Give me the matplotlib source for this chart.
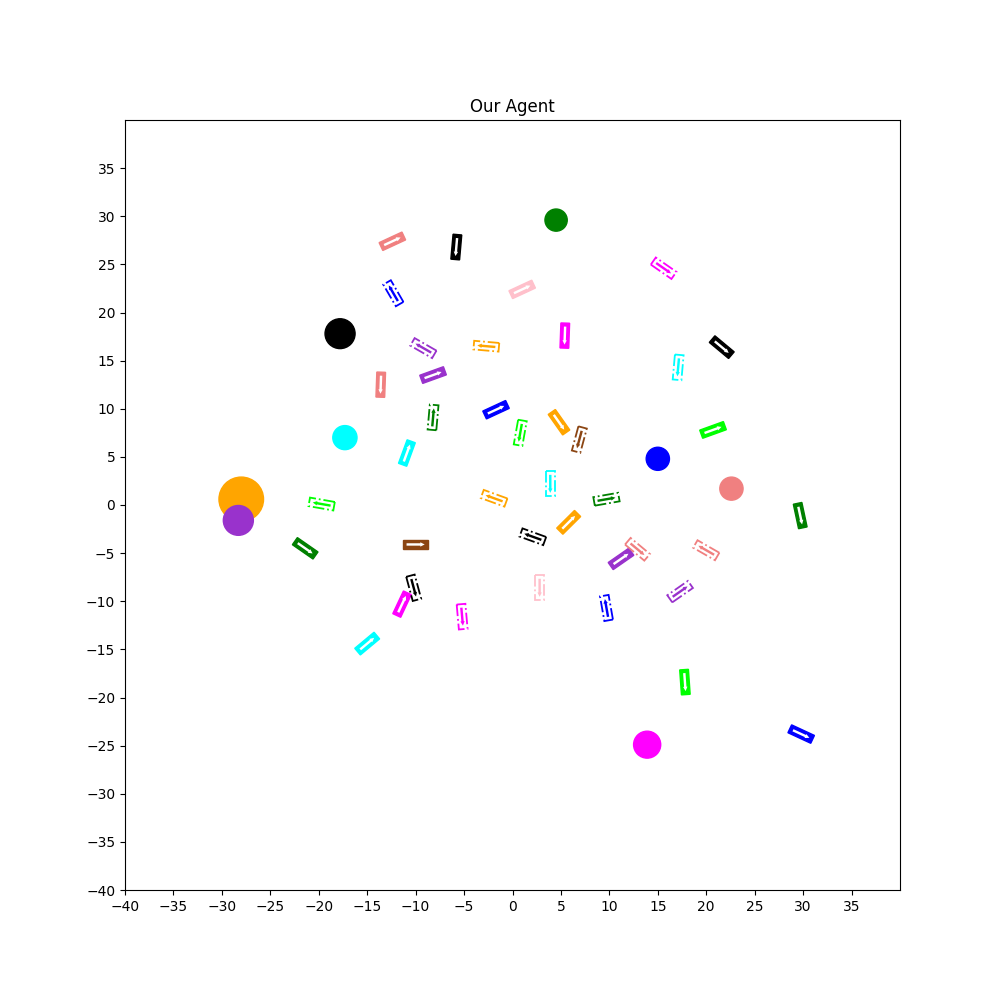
import numpy as np
import matplotlib
matplotlib.use("Agg")
import matplotlib.pyplot as plt
from matplotlib.patches import Rectangle, Circle

# Landmarks
lm_x = [4.5, -17.8, -17.3, -28.0, -28.3, 15.0, 22.6, 13.9]
lm_y = [29.6, 17.8, 7.0, 0.6, -1.6, 4.8, 1.7, -24.9]
lm_r = [1.15, 1.55, 1.25, 2.3, 1.55, 1.2, 1.2, 1.4]
lm_c = ['green', 'black', 'cyan', 'orange', 'darkorchid', 'blue', 'lightcoral', 'magenta']

# Our agents (solid)
our_x = [-12.4, -5.8, 1.0, 5.4, 21.6, -13.6, -8.2, -1.7, 4.8, -10.9,
         20.7, 29.7, 5.8, -21.4, -10.0, 11.2, -11.4, -15.0, 17.8, 29.8]
our_y = [27.4, 26.8, 22.4, 17.6, 16.4, 12.5, 13.5, 9.9, 8.6, 5.4,
         7.8, -1.1, -1.8, -4.5, -4.1, -5.6, -10.3, -14.4, -18.4, -23.8]
our_h = [25, -95, 25, -92, -40, -92, 20, 25, -55, 70,
         20, -78, 45, -35, 0, 35, 65, 40, -86, -25]
our_c = ['lightcoral', 'black', 'pink', 'magenta', 'black', 'lightcoral', 'darkorchid',
         'blue', 'orange', 'cyan', 'lime', 'green', 'orange', 'green', 'saddlebrown',
         'darkorchid', 'magenta', 'cyan', 'lime', 'blue']

# Other agents (dash-dot)
oth_x = [-12.3, 15.6, -9.2, -2.7, 17.1, -8.2, 0.8, 6.9, 3.9, -1.9,
         -19.7, 9.7, 2.1, 12.9, 20.0, 2.8, -10.2, 17.3, -5.2, 9.7]
oth_y = [22.0, 24.6, 16.3, 16.5, 14.3, 9.1, 7.5, 6.8, 2.2, 0.7,
         0.1, 0.6, -3.3, -4.6, -4.7, -8.6, -8.6, -9.0, -11.6, -10.7]
oth_h = [120, -35, 150, 175, -95, 85, -100, -105, -90, 160,
         170, 10, 160, -40, 150, -90, -75, 35, -85, 100]
oth_c = ['blue', 'magenta', 'darkorchid', 'orange', 'cyan', 'green', 'lime', 'saddlebrown',
         'cyan', 'orange', 'lime', 'green', 'black', 'lightcoral', 'lightcoral', 'pink',
         'black', 'darkorchid', 'magenta', 'blue']

L, W = 2.6, 0.9


def draw_agent(ax, x, y, h, c, solid):
    t = np.deg2rad(h)
    d = np.array([np.cos(t), np.sin(t)])
    if solid:
        rect = Rectangle((x - L / 2, y - W / 2), L, W, angle=h, rotation_point='center',
                         facecolor=c, edgecolor=c, linewidth=1)
        ac = 'white'
    else:
        rect = Rectangle((x - L / 2, y - W / 2), L, W, angle=h, rotation_point='center',
                         facecolor='none', edgecolor=c, linewidth=1.3, linestyle='-.')
        ac = c
    ax.add_patch(rect)
    s = np.array([x, y]) - d * L * 0.36
    ax.arrow(s[0], s[1], d[0] * L * 0.72, d[1] * L * 0.72, width=0.25,
             head_width=0.45, head_length=0.45, length_includes_head=True,
             color=ac, linewidth=0)


fig, ax = plt.subplots(figsize=(10, 10))

for x, y, r, c in zip(lm_x, lm_y, lm_r, lm_c):
    ax.add_patch(Circle((x, y), r, color=c))

for x, y, h, c in zip(our_x, our_y, our_h, our_c):
    draw_agent(ax, x, y, h, c, True)

for x, y, h, c in zip(oth_x, oth_y, oth_h, oth_c):
    draw_agent(ax, x, y, h, c, False)

ax.set_xlim(-40, 40)
ax.set_ylim(-40, 40)
ax.set_xticks(np.arange(-40, 40, 5))
ax.set_yticks(np.arange(-40, 40, 5))
ax.set_title("Our Agent")
plt.savefig("out.png")
